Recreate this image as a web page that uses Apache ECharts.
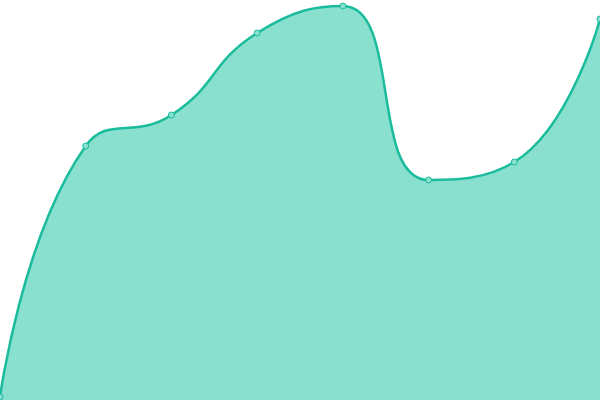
<!DOCTYPE html>
<html>
<head>
<meta charset="utf-8">
<title>area</title>
<style>html,body{margin:0;padding:0;background:#fff;}</style>
</head>
<body>
<div id="main" style="width: 600px;height:400px;"></div>
<script src="https://cdn.jsdelivr.net/npm/echarts@6/dist/echarts.min.js"></script>
<script>
    // one value per point
    var categories = ['1', '2', '3', '4', '5', '6', '7', '8'];
    var values = [3, 254, 285, 367, 394, 220, 238, 381];

    var myChart = echarts.init(document.getElementById('main'));
    var option = {
        animation: false,
        grid: { left: 0, right: 0, top: 0, bottom: 0 },
        xAxis: {
            type: 'category',
            data: categories,
            boundaryGap: false,
            show: false
        },
        yAxis: {
            type: 'value',
            min: 0,
            max: 400,
            show: false
        },
        series: [{
            type: 'line',
            data: values,
            smooth: true,
            symbol: 'circle',
            symbolSize: 6,
            lineStyle: { color: '#1abc9c', width: 2.5 },
            itemStyle: { color: '#8ae0cf', borderColor: '#1abc9c', borderWidth: 1 },
            areaStyle: { color: '#89e0cf', opacity: 1 }
        }]
    };
    myChart.setOption(option);
</script>
</body>
</html>
